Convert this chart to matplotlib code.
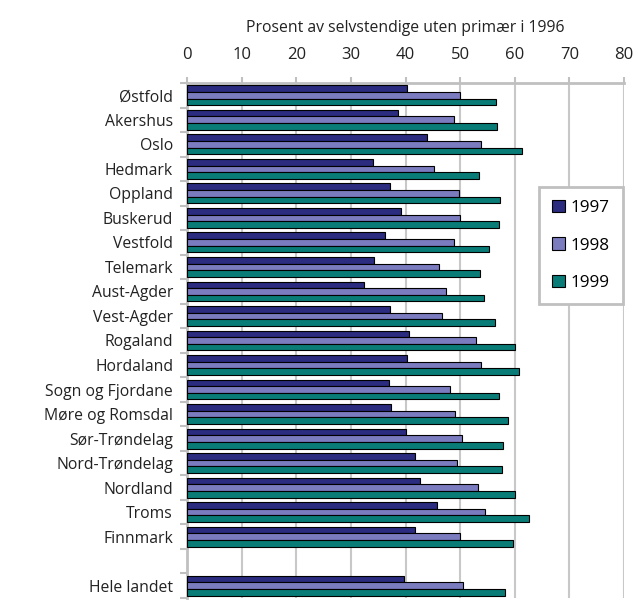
import numpy as np
import matplotlib.pyplot as plt

plt.rcParams['font.family'] = ['Open Sans', 'DejaVu Sans']

fylker = ["Østfold", "Akershus", "Oslo", "Hedmark", "Oppland", "Buskerud",
          "Vestfold", "Telemark", "Aust-Agder", "Vest-Agder", "Rogaland",
          "Hordaland", "Sogn og Fjordane", "Møre og Romsdal", "Sør-Trøndelag",
          "Nord-Trøndelag", "Nordland", "Troms", "Finnmark", "", "Hele landet"]

v1997 = [40.2, 38.6, 44.0, 34.1, 37.2, 39.1, 36.3, 34.3, 32.4, 37.2, 40.6,
         40.3, 37.0, 37.4, 40.1, 41.7, 42.6, 45.7, 41.8, np.nan, 39.7]
v1998 = [49.9, 48.8, 53.8, 45.3, 49.8, 49.9, 48.8, 46.1, 47.5, 46.6, 52.9,
         53.8, 48.2, 49.0, 50.3, 49.4, 53.2, 54.6, 49.9, np.nan, 50.6]
v1999 = [56.5, 56.7, 61.4, 53.5, 57.3, 57.1, 55.3, 53.6, 54.3, 56.3, 60.1,
         60.7, 57.2, 58.8, 57.8, 57.7, 60.1, 62.6, 59.6, np.nan, 58.3]

years = ["1997", "1998", "1999"]
colors = ["#2b2b7f", "#7b7bc0", "#0a7c78"]

fig = plt.figure(figsize=(6.38, 6.01), dpi=100)
ax = fig.add_axes([187/638, 3/601, 437/638, 515/601])

y = np.arange(len(fylker))
h = 0.27
for i, (vals, c, lab) in enumerate(zip([v1997, v1998, v1999], colors, years)):
    ax.barh(y + (i - 1) * h, vals, height=h, color=c, edgecolor="black",
            linewidth=0.8, label=lab, zorder=3)

ax.set_ylim(len(fylker) - 0.5, -0.5)
ax.set_xlim(0, 80)
ax.set_xticks(range(0, 81, 10))
ax.xaxis.tick_top()
ax.xaxis.set_label_position("top")
ax.set_xlabel("Prosent av selvstendige uten primær i 1996", fontsize=11.3,
              labelpad=10.5, color="#222222")
ax.tick_params(axis="x", length=4, width=1.5, color="#c0c0c0", labelsize=12,
               pad=10.5, labelcolor="#222222")

ax.set_yticks(y)
ax.set_yticklabels(fylker, fontsize=11.3, color="#222222")
ax.tick_params(axis="y", length=0, pad=10)
ax.set_yticks(np.arange(len(fylker) + 1) - 0.5, minor=True)
ax.tick_params(axis="y", which="minor", length=5, width=1.5, color="#c0c0c0")

ax.grid(axis="x", color="#c8c8c8", linewidth=1.5, zorder=0)
for s in ["right", "bottom"]:
    ax.spines[s].set_visible(False)
for s in ["left", "top"]:
    ax.spines[s].set_color("#c0c0c0")
    ax.spines[s].set_linewidth(2)

leg = ax.legend(loc="upper left", bbox_to_anchor=(352/437, (598-187)/515),
                fontsize=12.3, frameon=True, fancybox=False, labelspacing=1.25,
                handlelength=0.75, handleheight=0.75, handletextpad=0.35,
                borderpad=0.75, borderaxespad=0, framealpha=1)
leg.get_frame().set_edgecolor("#c0c0c0")
leg.get_frame().set_linewidth(2)

fig.savefig("out.png", dpi=100)
